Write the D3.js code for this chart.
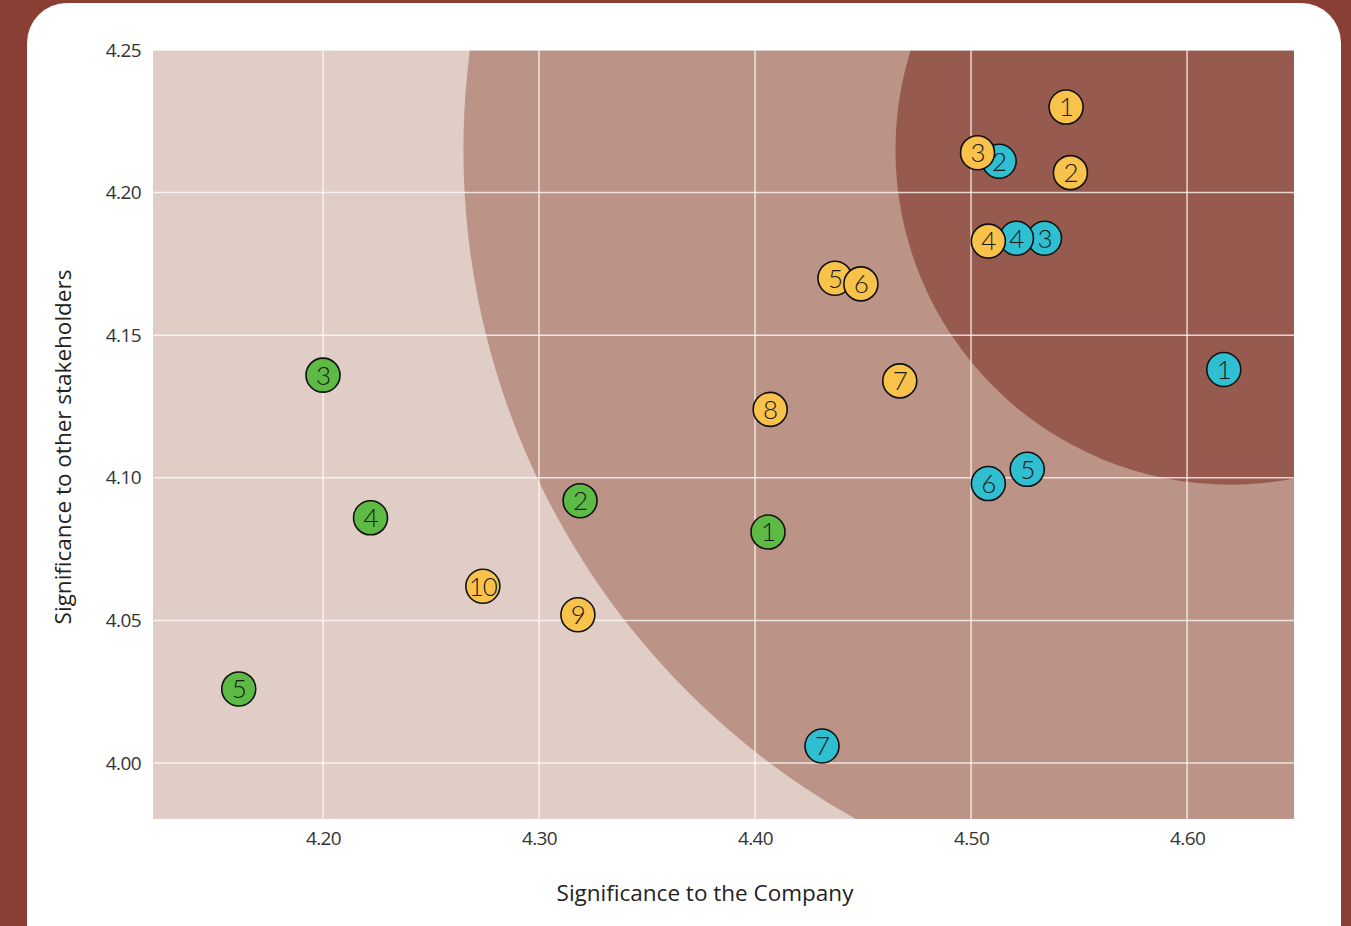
<!DOCTYPE html>
<html>
<head>
<meta charset="utf-8">
<script src="https://cdn.jsdelivr.net/npm/d3@7"></script>
<style>
  html, body { margin: 0; padding: 0; }
  body { width: 1351px; height: 926px; background: #8a3f35; overflow: hidden; font-family: "Open Sans", sans-serif; }
</style>
</head>
<body>
<svg id="chart"></svg>
<script>
// series: label number, x (significance to company), y (significance to stakeholders)
const yellowLabels = [1, 2, 3, 4, 5, 6, 7, 8, 9, 10]
const yellowX = [4.544, 4.546, 4.503, 4.508, 4.437, 4.449, 4.467, 4.407, 4.318, 4.274]
const yellowY = [4.230, 4.207, 4.214, 4.183, 4.170, 4.168, 4.134, 4.124, 4.052, 4.062]

const blueLabels = [1, 2, 3, 4, 5, 6, 7]
const blueX = [4.617, 4.513, 4.534, 4.521, 4.526, 4.508, 4.431]
const blueY = [4.138, 4.211, 4.184, 4.184, 4.103, 4.098, 4.006]

const greenLabels = [1, 2, 3, 4, 5]
const greenX = [4.406, 4.319, 4.200, 4.222, 4.161]
const greenY = [4.081, 4.092, 4.136, 4.086, 4.026]

const xTicks = [4.20, 4.30, 4.40, 4.50, 4.60]
const yTicks = [4.00, 4.05, 4.10, 4.15, 4.20, 4.25]

// materiality zones: center and radius (in x units)
const zoneCenter = [4.62, 4.215]
const zoneRadii = [0.355, 0.155]
const zoneColors = ['#bb9387', '#965b4e']

const width = 1351
const height = 926
const margin = { left: 153, right: 57, top: 50, bottom: 107 }

const svg = d3.select('#chart')
  .attr('width', width)
  .attr('height', height)

// white card
svg.append('rect')
  .attr('x', 27).attr('y', 3)
  .attr('width', 1314).attr('height', 990)
  .attr('rx', 40)
  .attr('fill', '#ffffff')

const xScale = d3.scaleLinear()
  .domain([4.1213, 4.6495])
  .range([margin.left, width - margin.right])

const yScale = d3.scaleLinear()
  .domain([3.9804, 4.25])
  .range([height - margin.bottom, margin.top])

const plotW = xScale.range()[1] - xScale.range()[0]
const plotH = yScale.range()[0] - yScale.range()[1]

svg.append('clipPath').attr('id', 'plotClip')
  .append('rect')
  .attr('x', margin.left).attr('y', margin.top)
  .attr('width', plotW).attr('height', plotH)

const plot = svg.append('g').attr('clip-path', 'url(#plotClip)')

plot.append('rect')
  .attr('x', margin.left).attr('y', margin.top)
  .attr('width', plotW).attr('height', plotH)
  .attr('fill', '#dfcdc6')

plot.selectAll('circle.zone')
  .data(zoneRadii)
  .enter()
  .append('circle')
  .attr('class', 'zone')
  .attr('cx', xScale(zoneCenter[0]))
  .attr('cy', yScale(zoneCenter[1]))
  .attr('r', d => xScale(zoneCenter[0] + d) - xScale(zoneCenter[0]))
  .attr('fill', (d, i) => zoneColors[i])

// grid
plot.selectAll('line.gx')
  .data(xTicks)
  .enter()
  .append('line')
  .attr('x1', d => xScale(d)).attr('x2', d => xScale(d))
  .attr('y1', margin.top).attr('y2', margin.top + plotH)
  .attr('stroke', '#ffffff').attr('stroke-opacity', 0.75).attr('stroke-width', 1.5)

plot.selectAll('line.gy')
  .data(yTicks)
  .enter()
  .append('line')
  .attr('y1', d => yScale(d)).attr('y2', d => yScale(d))
  .attr('x1', margin.left).attr('x2', margin.left + plotW)
  .attr('stroke', '#ffffff').attr('stroke-opacity', 0.75).attr('stroke-width', 1.5)

// axes
const x_axis = d3.axisBottom(xScale).tickValues(xTicks).tickFormat(d3.format('.2f')).tickSize(0).tickPadding(13)
svg.append('g')
  .attr('transform', 'translate(0,' + (height - margin.bottom) + ')')
  .call(x_axis)

const y_axis = d3.axisLeft(yScale).tickValues(yTicks).tickFormat(d3.format('.2f')).tickSize(0).tickPadding(12)
svg.append('g')
  .attr('transform', 'translate(' + margin.left + ',0)')
  .call(y_axis)

svg.selectAll('.domain').remove()
svg.selectAll('.tick text')
  .attr('font-family', '"Open Sans", sans-serif')
  .attr('font-size', 19)
  .attr('letter-spacing', -0.6)
  .attr('fill', '#333333')

svg.append('text')
  .attr('x', 705)
  .attr('y', 901)
  .attr('text-anchor', 'middle')
  .attr('font-family', '"Open Sans", sans-serif')
  .attr('font-size', 22.5)
  .attr('fill', '#222222')
  .text('Significance to the Company')

svg.append('text')
  .attr('transform', 'translate(71,447) rotate(-90)')
  .attr('text-anchor', 'middle')
  .attr('font-family', '"Open Sans", sans-serif')
  .attr('font-size', 22.5)
  .attr('fill', '#222222')
  .text('Significance to other stakeholders')

// points
function drawSeries(labels, xs, ys, color) {
  const data = labels.map((l, i) => ({ label: l, x: xs[i], y: ys[i] }))
  const g = svg.append('g')
  const node = g.selectAll('g')
    .data(data)
    .enter()
    .append('g')
    .attr('transform', d => 'translate(' + xScale(d.x) + ',' + yScale(d.y) + ')')
  node.append('circle')
    .attr('r', 17)
    .attr('fill', color)
    .attr('stroke', '#111111')
    .attr('stroke-width', 1.6)
  node.append('text')
    .text(d => d.label)
    .attr('text-anchor', 'middle')
    .attr('dy', '0.36em')
    .attr('font-family', 'Lato, sans-serif')
    .attr('font-weight', 300)
    .attr('font-size', 26)
    .attr('letter-spacing', -1)
    .attr('fill', '#1a1a1a')
}

drawSeries(blueLabels, blueX, blueY, '#2fbfd1')
drawSeries(greenLabels, greenX, greenY, '#5cba45')
drawSeries(yellowLabels, yellowX, yellowY, '#f9c24b')
</script>
</body>
</html>
